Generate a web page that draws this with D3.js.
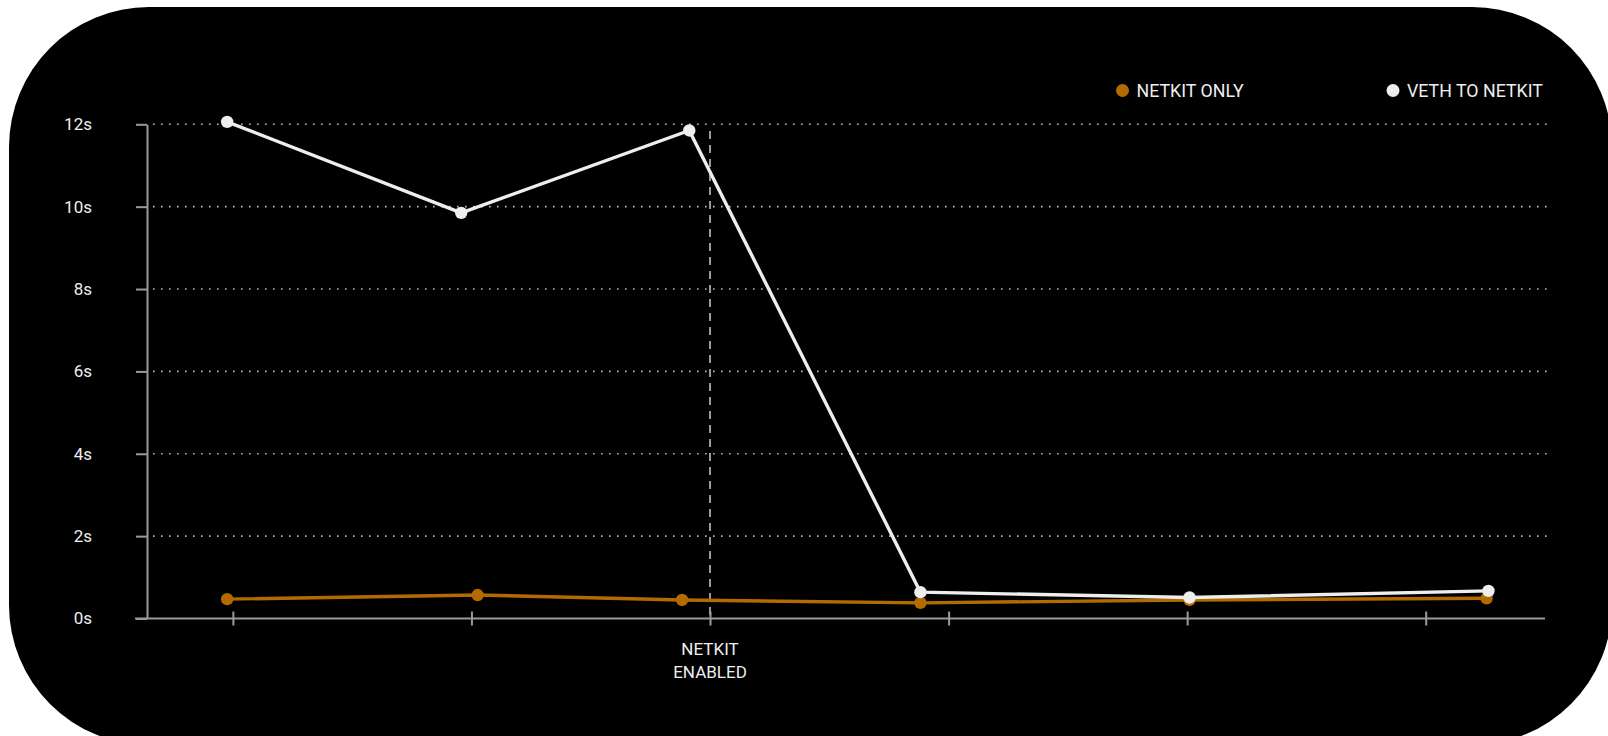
<!DOCTYPE html>
<html>
<head>
<meta charset="utf-8">
<script src="https://cdn.jsdelivr.net/npm/d3@7"></script>
<style>
  html, body { margin: 0; padding: 0; background: #ffffff; }
  svg { display: block; }
  text { font-family: Roboto, "Noto Sans", sans-serif; }
</style>
</head>
<body>
<svg id="chart" width="1608" height="736"></svg>
<script>
// ---- data ----
const seriesNames = ["NETKIT ONLY", "VETH TO NETKIT"];
const seriesColors = ["#b36b00", "#eeeeee"];
// x positions in tick units (ticks are evenly spaced, only one is labelled)
const netkitOnlyX = [-0.024, 1.026, 1.883, 2.882, 4.010, 5.255];
const netkitOnlyY = [0.47, 0.57, 0.45, 0.38, 0.45, 0.49];
const vethToNetkitX = [-0.024, 0.957, 1.913, 2.882, 4.010, 5.263];
const vethToNetkitY = [12.06, 9.85, 11.85, 0.64, 0.51, 0.67];
const xTicks = [0, 1, 2, 3, 4, 5];
const xTickLabels = ["", "", "NETKIT\nENABLED", "", "", ""];
const yTicks = [0, 2, 4, 6, 8, 10, 12];
const markerX = 2; // "NETKIT ENABLED"

// ---- layout ----
const svg = d3.select("#chart");
svg.append("rect")
  .attr("x", 9).attr("y", 7).attr("width", 1603).attr("height", 738)
  .attr("rx", 140).attr("ry", 140)
  .attr("fill", "#000");

const x = d3.scaleLinear().domain([-0.36, 5.5]).range([147, 1545]);
const y = d3.scaleLinear().domain([0, 12]).range([618.5, 124.3]);

const axisColor = "#9a9a9a";

// gridlines
svg.append("g").selectAll("line")
  .data(yTicks.filter(d => d > 0))
  .join("line")
  .attr("x1", 153).attr("x2", 1547)
  .attr("y1", d => y(d)).attr("y2", d => y(d))
  .attr("stroke", "#bdbdbd")
  .attr("stroke-width", 1.6)
  .attr("stroke-dasharray", "1.6 6.4");

// y axis
const yAxis = svg.append("g")
  .attr("transform", `translate(${x.range()[0]},0)`)
  .call(d3.axisLeft(y).tickValues(yTicks).tickFormat(d => d + "s").tickSize(11).tickSizeOuter(0).tickPadding(44));
yAxis.select(".domain").attr("stroke", axisColor).attr("stroke-width", 2);
yAxis.selectAll(".tick line").attr("stroke", axisColor).attr("stroke-width", 2);
yAxis.selectAll(".tick text").attr("fill", "#eeeeee").attr("font-size", 17)
  .attr("font-family", "Roboto, sans-serif");

// x axis
const xAxis = svg.append("g")
  .attr("transform", `translate(0,${y(0)})`)
  .call(d3.axisBottom(x).tickValues(xTicks).tickFormat(() => "").tickSize(7).tickSizeOuter(0));
xAxis.select(".domain").attr("stroke", axisColor).attr("stroke-width", 2)
  .attr("d", `M${x.range()[0] - 12},0H${x.range()[1]}`);
xAxis.selectAll(".tick line").attr("stroke", axisColor).attr("stroke-width", 2).attr("y1", -7);
xAxis.selectAll(".tick text").remove();

// x tick labels (multi-line)
svg.append("g").selectAll("text")
  .data(xTicks.map((t, i) => ({ t, label: xTickLabels[i] })).filter(d => d.label))
  .join("text")
  .attr("x", d => x(d.t))
  .attr("y", 655)
  .attr("text-anchor", "middle")
  .attr("fill", "#eeeeee")
  .attr("font-size", 17)
  .selectAll("tspan")
  .data(d => d.label.split("\n").map(s => ({ s, x: x(d.t) })))
  .join("tspan")
  .attr("x", d => d.x)
  .attr("dy", (d, i) => i === 0 ? 0 : 23)
  .text(d => d.s);

// marker dashed line
svg.append("line")
  .attr("x1", x(markerX)).attr("x2", x(markerX))
  .attr("y1", 131).attr("y2", y(0))
  .attr("stroke", axisColor)
  .attr("stroke-width", 2)
  .attr("stroke-dasharray", "8 6");

// series
const series = [
  { xs: netkitOnlyX, ys: netkitOnlyY },
  { xs: vethToNetkitX, ys: vethToNetkitY }
];
const line = d3.line().x(d => x(d[0])).y(d => y(d[1]));
series.forEach((s, i) => {
  const pts = s.xs.map((v, j) => [v, s.ys[j]]);
  const g = svg.append("g");
  g.append("path").datum(pts)
    .attr("d", line)
    .attr("fill", "none")
    .attr("stroke", seriesColors[i])
    .attr("stroke-width", 3.4)
    .attr("stroke-linejoin", "round");
  g.selectAll("circle").data(pts).join("circle")
    .attr("cx", d => x(d[0])).attr("cy", d => y(d[1]))
    .attr("r", 6.2)
    .attr("fill", seriesColors[i]);
});

// legend
const legendX = [1122.5, 1393];
const legend = svg.append("g");
seriesNames.forEach((name, i) => {
  legend.append("circle")
    .attr("cx", legendX[i]).attr("cy", 90.5).attr("r", 6.5)
    .attr("fill", seriesColors[i]);
  legend.append("text")
    .attr("x", legendX[i] + 14).attr("y", 90.5)
    .attr("dy", "0.35em")
    .attr("fill", "#eeeeee")
    .attr("font-size", 17.8)
    .text(name);
});
</script>
</body>
</html>
